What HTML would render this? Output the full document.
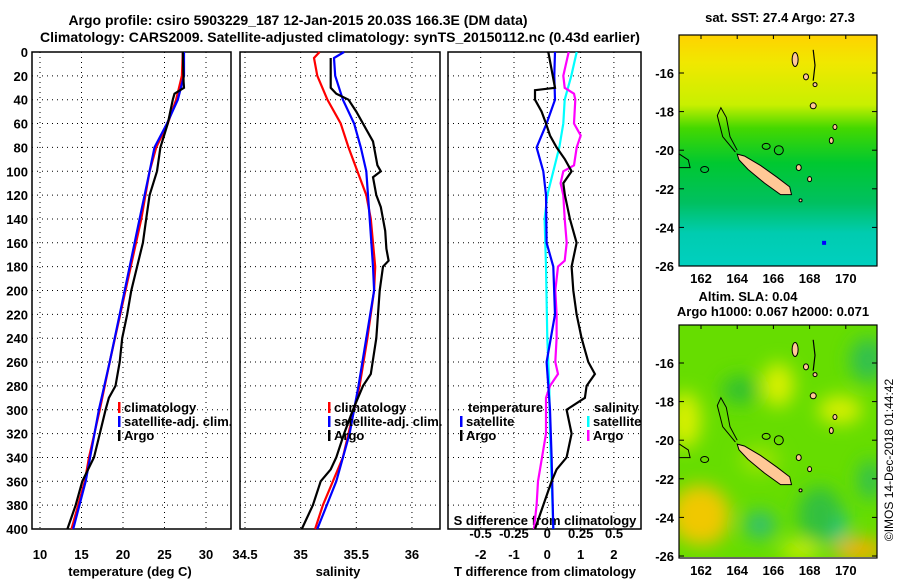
<!DOCTYPE html>
<html><head><meta charset="utf-8"><style>
html,body{margin:0;padding:0;background:#fff;}
svg{display:block;font-family:"Liberation Sans",sans-serif;font-weight:bold;}
</style></head><body>
<svg id="c" width="900" height="580" viewBox="0 0 900 580" xmlns="http://www.w3.org/2000/svg">
<defs>
<linearGradient id="sst" x1="0" y1="0" x2="0" y2="1">
<stop offset="0" stop-color="#ffd200"/><stop offset="0.12" stop-color="#f0e800"/><stop offset="0.3" stop-color="#c8f000"/><stop offset="0.4" stop-color="#44d800"/><stop offset="0.55" stop-color="#00c830"/><stop offset="0.72" stop-color="#00c060"/><stop offset="0.85" stop-color="#00ccb0"/><stop offset="1" stop-color="#00d0c0"/>
</linearGradient>
<filter id="blur"><feGaussianBlur stdDeviation="9"/></filter>
<clipPath id="m1"><rect x="679" y="35" width="198" height="231"/></clipPath>
<clipPath id="m2"><rect x="679" y="324" width="198" height="233"/></clipPath>
</defs>
<text x="298" y="25" font-size="14" text-anchor="middle">Argo profile: csiro 5903229_187 12-Jan-2015 20.03S 166.3E (DM data)</text>
<text x="340" y="42" font-size="14" text-anchor="middle">Climatology: CARS2009. Satellite-adjusted climatology: synTS_20150112.nc (0.43d earlier)</text>
<g id="g"></g>
</svg>
<script>
// ---- data (depth in dbar) ----
const depthTicks=[0,20,40,60,80,100,120,140,160,180,200,220,240,260,280,300,320,340,360,380,400];
const tempTicks=[10,15,20,25,30];
const salTicks=[34.5,35,35.5,36];
const tdiffTicks=[-2,-1,0,1,2];
const sdiffTicks=[-0.5,-0.25,0,0.25,0.5];
const sdiffLabels=["-0.5","-0.25","0","0.25","0.5"];

const tClimD=[0,20,40,60,80,100,140,200,260,300,340,360,400];
const tClimV=[27.2,27.1,26.4,25.4,24.0,23.2,22.2,20.3,18.4,17.2,15.9,15.4,13.8];
const tSatD=[0,20,40,60,80,100,140,200,260,300,360,400];
const tSatV=[27.35,27.35,26.6,25.3,23.8,23.2,22.0,20.2,18.4,17.1,15.5,14.0];
const tArgoD=[0,25,30,35,40,60,80,100,120,140,160,180,200,220,240,260,280,290,300,320,340,360,380,400];
const tArgoV=[27.2,27.3,27.35,26.2,26.0,25.4,24.5,24.1,23.2,22.8,22.4,21.7,21.0,20.5,19.9,19.6,19.1,18.3,17.9,17.2,16.5,15.1,14.3,13.3];

const sClimD=[0,5,20,40,60,80,100,120,140,160,180,200,240,280,300,340,360,380,400];
const sClimV=[35.17,35.12,35.15,35.24,35.36,35.43,35.51,35.59,35.63,35.65,35.67,35.66,35.60,35.53,35.48,35.38,35.29,35.20,35.13];
const sSatD=[0,5,20,40,60,80,100,140,180,200,240,280,320,360,400];
const sSatV=[35.39,35.30,35.31,35.38,35.48,35.54,35.59,35.62,35.65,35.66,35.59,35.52,35.44,35.32,35.15];
const sArgoD=[5,30,35,40,50,65,75,95,100,105,120,130,150,165,175,180,200,240,270,280,300,320,340,350,360,380,400];
const sArgoV=[35.27,35.27,35.32,35.43,35.50,35.59,35.65,35.69,35.72,35.65,35.68,35.72,35.76,35.77,35.79,35.74,35.71,35.68,35.63,35.56,35.47,35.39,35.32,35.27,35.18,35.11,35.01];

const dTSatD=[0,20,40,60,80,100,120,160,180,220,260,280,300,340,400];
const dTSatV=[0.23,0.21,0.23,-0.02,-0.32,-0.12,-0.04,-0.02,0.18,0.23,-0.02,0.03,0.08,0.13,0.18];
const dTArgoD=[0,30,32,40,50,60,70,80,90,100,110,120,140,160,180,200,220,240,260,270,280,290,300,320,340,350,360,380,400];
const dTArgoV=[0.03,0.23,-0.37,-0.37,-0.17,-0.04,0.08,0.28,0.53,0.73,0.48,0.53,0.68,0.88,0.73,0.78,0.88,1.03,1.23,1.43,1.18,1.13,0.58,0.73,0.58,0.28,0.13,-0.12,-0.37];
const dSSatD=[0,20,40,60,80,100,120,140,180,240,280,320,400];
const dSSatV=[0.22,0.18,0.13,0.12,0.09,0.045,0,-0.02,-0.01,0,0.015,0.02,0.045];
const dSArgoD=[0,20,30,35,40,60,70,80,95,100,110,120,140,160,175,180,200,220,240,260,270,280,290,300,320,340,360,380,400];
const dSArgoV=[0.16,0.12,0.13,0.2,0.21,0.2,0.25,0.22,0.2,0.12,0.1,0.12,0.13,0.145,0.13,0.08,0.06,0.07,0.07,0.06,0.08,0.02,-0.01,-0.01,-0.01,-0.04,-0.07,-0.08,-0.1];

// ---- scales ----
const yD=d=>52+d*1.1925;
const xT=t=>40+(t-10)*8.3;
const xS=s=>245+(s-34.5)*111.3;
const xTD=v=>547.3+v*33.3;
const xSD=v=>547.3+v*133.5;
const NS='http://www.w3.org/2000/svg';
const G=document.getElementById('g');
function el(tag,attrs,parent){const e=document.createElementNS(NS,tag);for(const k in attrs)e.setAttribute(k,attrs[k]);(parent||G).appendChild(e);return e;}
function txt(x,y,s,anchor,size,parent){const t=el('text',{x:x,y:y,'font-size':size||13,'text-anchor':anchor||'middle'},parent);t.textContent=s;return t;}
function line(D,V,fx,color,name){
  const pts=D.map((d,i)=>fx(V[i]).toFixed(1)+','+yD(d).toFixed(1)).join(' ');
  const p=el('polyline',{points:pts,fill:'none',stroke:color,'stroke-width':2.2});
  
  
}
function panel(x0,x1,xticks,fx,name){
  const g=el('g',{});
  
  
  depthTicks.forEach(d=>{if(d>0&&d<400)el('line',{x1:x0,x2:x1,y1:yD(d),y2:yD(d),stroke:'#000','stroke-width':1,'stroke-dasharray':'1,4'},g);});
  xticks.forEach(t=>{const x=fx(t);if(x>x0+2&&x<x1-2)el('line',{x1:x,x2:x,y1:yD(0),y2:yD(400),stroke:'#000','stroke-width':1,'stroke-dasharray':'1,4'},g);});
  el('rect',{x:x0,y:yD(0),width:x1-x0,height:yD(400)-yD(0),fill:'none',stroke:'#000','stroke-width':1.5},g);
  return g;
}
// panel 1
const p1=panel(32,231,tempTicks,xT,'temperature-panel');
depthTicks.forEach(d=>{const t=txt(28,yD(d)+5,String(d),'end',13);});
tempTicks.forEach(v=>{const t=txt(xT(v),559,String(v));});
const a1=txt(130,576,'temperature (deg C)');
line(tClimD,tClimV,xT,'#ff0000','temp-climatology-line');
line(tSatD,tSatV,xT,'#0000ff','temp-satellite-line');
line(tArgoD,tArgoV,xT,'#000','temp-argo-line');
// panel 2
panel(240,440,salTicks,xS,'salinity-panel');
salTicks.forEach(v=>{const t=txt(xS(v),559,String(v));});
const a2=txt(338,576,'salinity');
line(sClimD,sClimV,xS,'#ff0000','sal-climatology-line');
line(sSatD,sSatV,xS,'#0000ff','sal-satellite-line');
line(sArgoD,sArgoV,xS,'#000','sal-argo-line');
// panel 3
panel(448,641,tdiffTicks,xTD,'difference-panel');
tdiffTicks.forEach(v=>{const t=txt(xTD(v),559,String(v));});
sdiffTicks.forEach((v,i)=>{const t=txt(xSD(v),538,sdiffLabels[i]);});
const a3=txt(545,576,'T difference from climatology');
const a4=txt(545,525,'S difference from climatology');
line(dSSatD,dSSatV,xSD,'#00ffff','sdiff-satellite-line');
line(dSArgoD,dSArgoV,xSD,'#ff00ff','sdiff-argo-line');
line(dTSatD,dTSatV,xTD,'#0000ff','tdiff-satellite-line');
line(dTArgoD,dTArgoV,xTD,'#000','tdiff-argo-line');
// legends
function leg(x,y,color,label,name){
  const g=el('g',{});
  
  
  el('rect',{x:x,y:y-10,width:2.5,height:11,fill:color},g);
  txt(x+6,y,label,'start',13,g);
}
leg(118,412,'#ff0000','climatology','legend-temp-climatology');
leg(118,426,'#0000ff','satellite-adj. clim.','legend-temp-satellite');
leg(118,440,'#000','Argo','legend-temp-argo');
leg(328,412,'#ff0000','climatology','legend-sal-climatology');
leg(328,426,'#0000ff','satellite-adj. clim.','legend-sal-satellite');
leg(328,440,'#000','Argo','legend-sal-argo');
const lt=txt(468,412,'temperature','start');
leg(460,426,'#0000ff','satellite','legend-tdiff-satellite');
leg(460,440,'#000','Argo','legend-tdiff-argo');
const ls=txt(594,412,'salinity','start');
leg(587,426,'#00ffff','satellite','legend-sdiff-satellite');
leg(587,440,'#ff00ff','Argo','legend-sdiff-argo');

// ---- maps ----
const lonTicks=[162,164,166,168,170];
const latTicks=[-16,-18,-20,-22,-24,-26];
const xL=lon=>701+(lon-162)*18.1;
function drawMap(top,clip,name,kind){
  const yL=lat=>top+(-16-lat)*19.3;
  const g=el('g',{});
  
  
  const b=top-38;
  const inner=el('g',{'clip-path':'url(#'+clip+')'},g);
  if(kind==='sst'){
    el('rect',{x:679,y:b,width:198,height:233,fill:'url(#sst)'},inner);
  }else{
    el('rect',{x:679,y:b,width:198,height:233,fill:'#66dd00'},inner);
    const bl=el('g',{filter:'url(#blur)'},inner);
    [[685,420,16,28,'#d8f000'],[705,525,22,20,'#f0a800'],[700,515,30,30,'#f0c800'],[778,385,16,22,'#d8f000'],[740,390,18,14,'#30c030'],[868,360,18,22,'#30c050'],[840,410,22,14,'#d8f000'],[835,525,12,18,'#00c8b0'],[820,515,22,28,'#30c040'],[760,525,16,14,'#30c070'],[860,550,26,12,'#f0b000'],[800,550,20,8,'#d8f000'],[870,480,12,20,'#30c050'],[760,460,20,14,'#99e400']].forEach(c=>el('ellipse',{cx:c[0],cy:c[1],rx:c[2],ry:c[3],fill:c[4]},bl));
  }
  // islands
  const poly=pts=>pts.map(p=>xL(p[0]).toFixed(1)+','+yL(p[1]).toFixed(1)).join(' ');
  el('polygon',{points:poly([[164.0,-20.2],[164.4,-20.3],[165.3,-20.8],[166.2,-21.4],[166.9,-21.9],[167.0,-22.3],[166.4,-22.3],[165.5,-21.7],[164.6,-21.0],[164.1,-20.5]]),fill:'#ffc896',stroke:'#000','stroke-width':1},inner);
  el('polyline',{points:poly([[163.9,-20.1],[163.2,-19.3],[162.9,-18.2],[163.1,-17.8],[163.4,-18.3],[163.6,-19.3],[164.0,-20.0]]),fill:'none',stroke:'#000','stroke-width':1},inner);
  el('polyline',{points:poly([[160.8,-20.2],[161.3,-20.5],[161.4,-20.9],[160.8,-20.9]]),fill:'none',stroke:'#000','stroke-width':1},inner);
  el('circle',{cx:xL(166.3),cy:yL(-20.0),r:4.5,fill:'none',stroke:'#000','stroke-width':1},inner);
  el('ellipse',{cx:xL(162.2),cy:yL(-21.0),rx:4,ry:3,fill:'none',stroke:'#000','stroke-width':1},inner);
  el('ellipse',{cx:xL(165.6),cy:yL(-19.8),rx:4,ry:3,fill:'none',stroke:'#000','stroke-width':1},inner);
  [[167.2,-15.3,3,7],[167.8,-16.2,2.5,3],[168.2,-17.7,3,3],[169.2,-19.5,2,3],[169.4,-18.8,2,2.5],[167.4,-20.9,2.5,3],[168.0,-21.5,2,2.5],[167.5,-22.6,1.5,1.5],[168.3,-16.6,2,2]].forEach(c=>el('ellipse',{cx:xL(c[0]),cy:yL(c[1]),rx:c[2],ry:c[3],fill:'#ffc896',stroke:'#000','stroke-width':1},inner));
  el('polyline',{points:poly([[168.2,-14.8],[168.3,-15.6],[168.2,-16.4]]),fill:'none',stroke:'#000','stroke-width':1.2},inner);
  if(kind==='sst') el('rect',{x:xL(168.8)-2,y:yL(-24.8)-2,width:4,height:4,fill:'#0000ff'},inner);
  el('rect',{x:679,y:b,width:198,height:(kind==='sst'?231:233),fill:'none',stroke:'#000','stroke-width':1.2},g);
  latTicks.forEach(l=>{const y=yL(l);el('line',{x1:679,x2:684,y1:y,y2:y,stroke:'#000'},g);el('line',{x1:872,x2:877,y1:y,y2:y,stroke:'#000'},g);txt(674,y+5,String(l),'end',13,g);});
  lonTicks.forEach(l=>{const x=xL(l);el('line',{x1:x,x2:x,y1:b,y2:b+4,stroke:'#000'},g);txt(x,b+(kind==='sst'?248:250),String(l),'middle',13,g);});
}
drawMap(73,'m1','sst-map','sst');
drawMap(363,'m2','sla-map','sla');
const mt1=txt(780,22,'sat. SST: 27.4 Argo: 27.3');
const mt2=txt(748,301,'Altim. SLA: 0.04');
const mt3=txt(773,316,'Argo h1000: 0.067 h2000: 0.071');
const cr=el('text',{x:0,y:0,'font-size':12,'font-weight':'normal','text-anchor':'middle',transform:'translate(893,460) rotate(-90)'});
cr.textContent='©IMOS 14-Dec-2018 01:44:42';


</script>
</body></html>
